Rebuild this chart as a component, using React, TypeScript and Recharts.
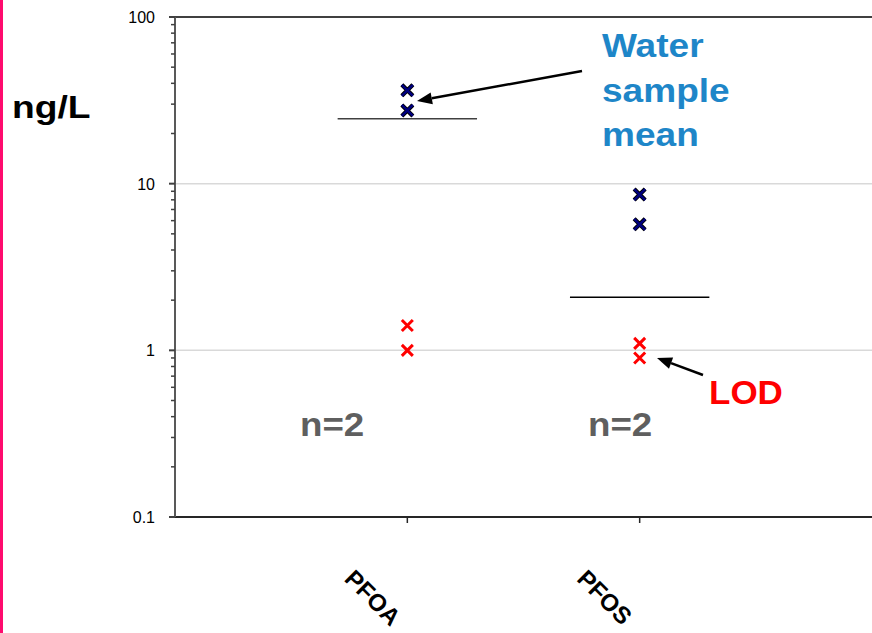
import React from 'react';
import { ScatterChart, Scatter, XAxis, YAxis, ReferenceLine } from 'recharts';

const categories = ['PFOA', 'PFOS'];
const sampleValues = [
  [36.3, 27.5],
  [8.6, 5.7],
];
const lodValues = [
  [1.41, 1.0],
  [1.1, 0.9],
];
const meanValues = [24.5, 2.08];
const majorTicks = [0.1, 1, 10, 100];
const yTicks = [
  0.1, 0.2, 0.3, 0.4, 0.5, 0.6, 0.7, 0.8, 0.9,
  1, 2, 3, 4, 5, 6, 7, 8, 9,
  10, 20, 30, 40, 50, 60, 70, 80, 90, 100,
];

const FONT = '"Liberation Sans", Arial, Helvetica, sans-serif';

const sampleData = sampleValues.flatMap((vals, i) => vals.map((y) => ({ x: i + 1, y })));
const lodData = lodValues.flatMap((vals, i) => vals.map((y) => ({ x: i + 1, y })));

function Cross({ cx, cy, fill, outline }: any) {
  const s = 5.5;
  const d = `M${cx - s},${cy - s}L${cx + s},${cy + s}M${cx - s},${cy + s}L${cx + s},${cy - s}`;
  return (
    <g>
      {outline && <path d={d} stroke={outline} strokeWidth={4.2} fill="none" />}
      <path d={d} stroke={fill} strokeWidth={outline ? 2.4 : 3} fill="none" />
    </g>
  );
}

function YTick({ x, y, payload }: any) {
  const v = payload.value;
  const major = majorTicks.includes(v);
  return (
    <g>
      <line x1={x - (major ? 6 : 4)} x2={x} y1={y} y2={y} stroke="#404040" strokeWidth={major ? 2 : 1.5} />
      {major && (
        <text x={x - 20} y={y + 6} textAnchor="end" fontSize={16} fill="#000" fontFamily={FONT}>
          {v}
        </text>
      )}
    </g>
  );
}

function XTick({ x, y, payload }: any) {
  const tx = x - 64;
  const ty = y + 57;
  return (
    <text
      x={tx}
      y={ty}
      transform={`rotate(45 ${tx} ${ty})`}
      fontSize={24}
      fontWeight="bold"
      fill="#000"
      fontFamily={FONT}
    >
      {categories[payload.value - 1]}
    </text>
  );
}

// wide bold label, stretched a bit sideways like the source
function Label({ x, y, size, sx, color, children }: any) {
  return (
    <text transform={`translate(${x} ${y}) scale(${sx} 1)`} fontSize={size} fill={color}>
      {children}
    </text>
  );
}

function Arrow({ x1, y1, x2, y2 }: { x1: number; y1: number; x2: number; y2: number }) {
  const a = Math.atan2(y2 - y1, x2 - x1);
  const len = 15;
  const w = 6;
  const bx = x2 - len * Math.cos(a);
  const by = y2 - len * Math.sin(a);
  const px = -Math.sin(a) * w;
  const py = Math.cos(a) * w;
  return (
    <g>
      <line x1={x1} y1={y1} x2={bx} y2={by} stroke="#000" strokeWidth={2.5} />
      <polygon points={`${x2},${y2} ${bx + px},${by + py} ${bx - px},${by - py}`} fill="#000" />
    </g>
  );
}

export default function App() {
  return (
    <div style={{ position: 'absolute', left: 0, top: 0, width: 872, height: 633, overflow: 'hidden', background: '#fff' }}>
      <ScatterChart width={872} height={633} margin={{ top: 17, right: 0, bottom: 0, left: 115 }} style={{ fontFamily: FONT }}>
        <XAxis
          type="number"
          dataKey="x"
          domain={[0, 3]}
          ticks={[1, 2]}
          height={116}
          tickSize={6}
          tickMargin={0}
          interval={0}
          stroke="#262626"
          axisLine={{ stroke: '#262626', strokeWidth: 2 }}
          tickLine={{ stroke: '#262626', strokeWidth: 1.5 }}
          tick={<XTick />}
          allowDataOverflow
        />
        <YAxis
          type="number"
          dataKey="y"
          scale="log"
          domain={[0.1, 100]}
          ticks={yTicks}
          interval={0}
          width={60}
          tickSize={0}
          tickMargin={0}
          tickLine={false}
          axisLine={{ stroke: '#595959', strokeWidth: 2 }}
          tick={<YTick />}
          allowDataOverflow
        />
        <ReferenceLine y={10} stroke="#d9d9d9" strokeWidth={1.5} />
        <ReferenceLine y={1} stroke="#d9d9d9" strokeWidth={1.5} />
        <ReferenceLine y={100} stroke="#404040" strokeWidth={2} />
        {meanValues.map((m, i) => (
          <ReferenceLine
            key={categories[i]}
            segment={[
              { x: i + 1 - 0.3, y: m },
              { x: i + 1 + 0.3, y: m },
            ]}
            stroke={i === 0 ? '#404040' : '#000'}
            strokeWidth={1.5}
          />
        ))}
        <Scatter
          data={sampleData}
          isAnimationActive={false}
          shape={(p: any) => <Cross cx={p.cx} cy={p.cy} fill="#000080" outline="#000" />}
        />
        <Scatter
          data={lodData}
          isAnimationActive={false}
          shape={(p: any) => <Cross cx={p.cx} cy={p.cy} fill="#ff0000" />}
        />
      </ScatterChart>
      <svg
        width={872}
        height={633}
        style={{ position: 'absolute', left: 0, top: 0, pointerEvents: 'none' }}
        fontFamily={FONT}
        fontWeight="bold"
      >
        <rect x={0} y={0} width={3} height={633} fill="#ff0a6e" />
        <Label x={12} y={118} size={31} sx={1.2} color="#000">ng/L</Label>
        <Label x={602} y={57} size={34} sx={1.09} color="#1e86c8">Water</Label>
        <Label x={602} y={102} size={34} sx={1.09} color="#1e86c8">sample</Label>
        <Label x={602} y={146} size={34} sx={1.09} color="#1e86c8">mean</Label>
        <Label x={709} y={404} size={34} sx={1.03} color="#ff0000">LOD</Label>
        <Label x={300} y={436} size={34} sx={1.08} color="#5f5f5f">n=2</Label>
        <Label x={588} y={436} size={34} sx={1.08} color="#5f5f5f">n=2</Label>
        <Arrow x1={582} y1={71} x2={417} y2={101} />
        <Arrow x1={703} y1={375} x2={657} y2={358} />
      </svg>
    </div>
  );
}
